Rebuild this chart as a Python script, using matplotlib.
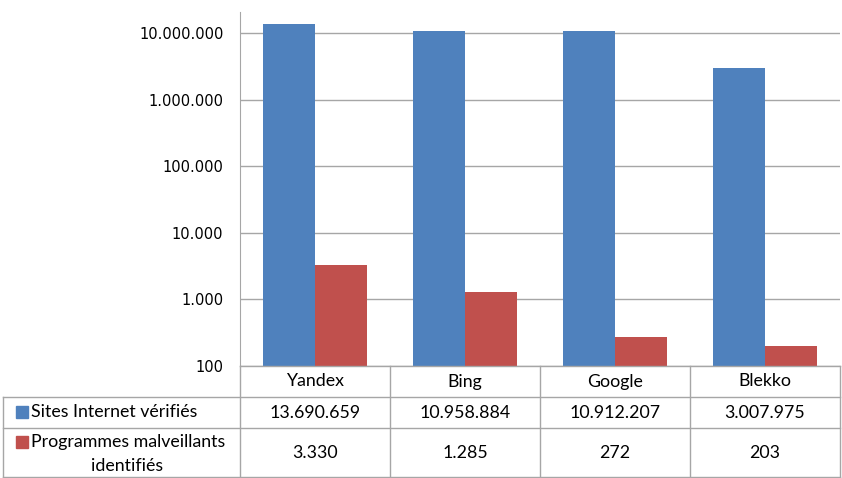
import matplotlib
matplotlib.use("Agg")
import matplotlib.pyplot as plt
import numpy as np
from matplotlib.lines import Line2D
from matplotlib.patches import Rectangle

engines = ["Yandex", "Bing", "Google", "Blekko"]
sites_checked = [13690659, 10958884, 10912207, 3007975]
malware_found = [3330, 1285, 272, 203]
series_labels = ["Sites Internet vérifiés", "Programmes malveillants", "identifiés"]
y_ticks = [100, 1000, 10000, 100000, 1000000, 10000000]

BLUE = "#4F81BD"
RED = "#C0504D"
GRID = "#A6A6A6"
TABLE_FONT = "Lato"
TABLE_SIZE = 12.8


def dotted(v):
    return f"{v:,}".replace(",", ".")


W, H = 842, 478
fig = plt.figure(figsize=(W / 100, H / 100), dpi=100)

# plot area, in pixels of the reference picture
px_left, px_right, px_top, px_bottom = 240, 840, 12, 366
ax = fig.add_axes([px_left / W, 1 - px_bottom / H,
                   (px_right - px_left) / W, (px_bottom - px_top) / H])

x = np.arange(len(engines))
bw = 0.345
ax.bar(x - bw / 2, sites_checked, width=bw, color=BLUE, zorder=3)
ax.bar(x + bw / 2, malware_found, width=bw, color=RED, zorder=3)

ax.set_yscale("log")
ax.set_ylim(100, 10 ** 7.32)
ax.set_xlim(-0.5, len(engines) - 0.5)
ax.set_yticks(y_ticks)
ax.set_yticklabels([dotted(t) for t in y_ticks], fontsize=10.5, color="#000000")
ax.yaxis.set_minor_locator(matplotlib.ticker.NullLocator())
ax.tick_params(axis="y", length=0, pad=12)
ax.set_xticks([])
ax.grid(axis="y", color=GRID, lw=1.0, zorder=0)
for side in ["top", "right", "bottom"]:
    ax.spines[side].set_visible(False)
ax.spines["left"].set_color(GRID)


# data table under the plot, in figure pixels
def fx(p):
    return p / W


def fy(p):
    return 1 - p / H


row_y = [366, 397, 428, 477]
col_x = [240, 390, 540, 690, 840]
left_x = 3

lines = [((col_x[0], col_x[-1]), (row_y[0], row_y[0]))]
for ry in row_y[1:]:
    lines.append(((left_x, col_x[-1]), (ry, ry)))
for cx in col_x:
    lines.append(((cx, cx), (row_y[0], row_y[-1])))
lines.append(((left_x, left_x), (row_y[1], row_y[-1])))
for xs, ys in lines:
    fig.add_artist(Line2D([fx(xs[0]), fx(xs[1])], [fy(ys[0]), fy(ys[1])],
                          color=GRID, lw=1.0))

tkw = dict(fontsize=TABLE_SIZE, family=TABLE_FONT, va="center")
for i, name in enumerate(engines):
    cx = fx((col_x[i] + col_x[i + 1]) / 2)
    fig.text(cx, fy((row_y[0] + row_y[1]) / 2), name, ha="center", **tkw)
    fig.text(cx, fy((row_y[1] + row_y[2]) / 2), dotted(sites_checked[i]), ha="center", **tkw)
    fig.text(cx, fy((row_y[2] + row_y[3]) / 2), dotted(malware_found[i]), ha="center", **tkw)

# legend keys and row labels
sq = 12
fig.add_artist(Rectangle((fx(16), fy(418)), sq / W, sq / H, color=BLUE))
fig.add_artist(Rectangle((fx(16), fy(448)), sq / W, sq / H, color=RED))
fig.text(fx(31), fy(412), series_labels[0], ha="left", **tkw)
fig.text(fx(31), fy(442), series_labels[1], ha="left", **tkw)
fig.text(fx(127), fy(466), series_labels[2], ha="center", **tkw)

fig.savefig("out.png", dpi=100)
